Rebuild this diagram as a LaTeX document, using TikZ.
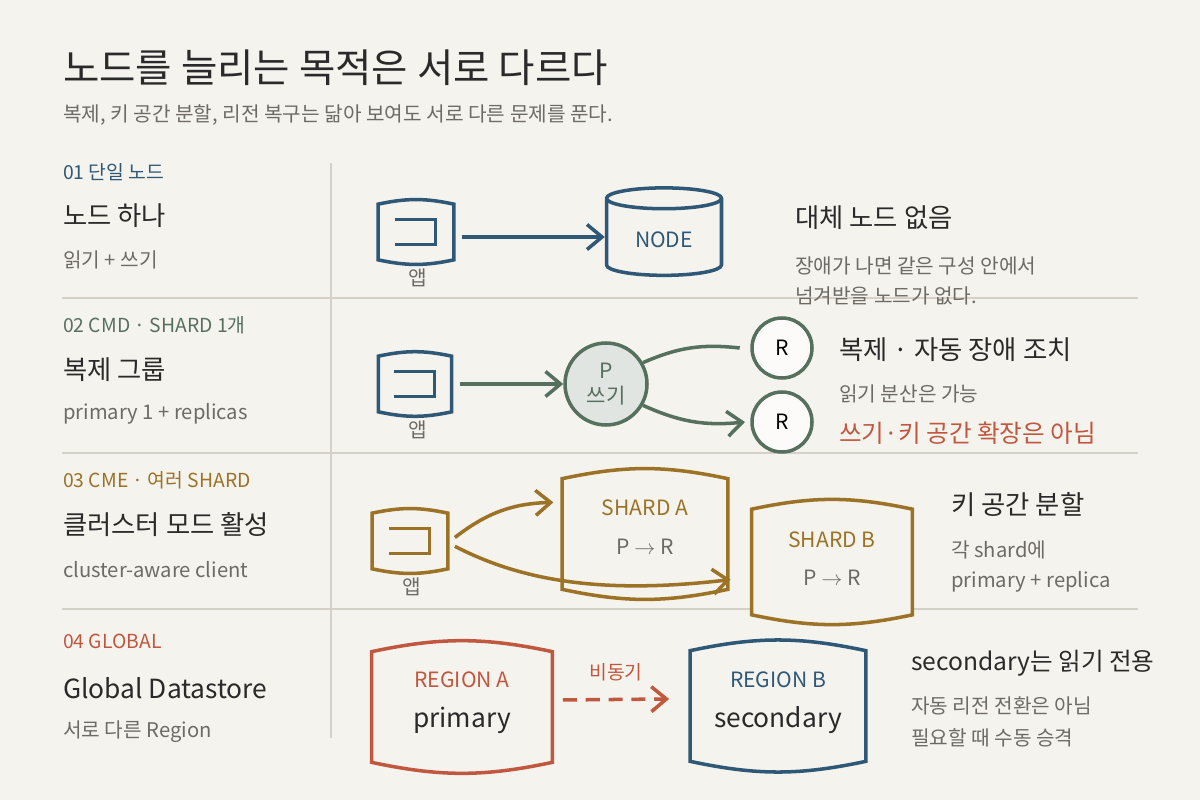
\documentclass[tikz,border=0pt]{standalone}
\usepackage{fontspec}
\setmainfont{Noto Sans CJK KR}
\usepackage{tikz}
\usetikzlibrary{shapes.geometric, arrows.meta, positioning}
\definecolor{bgc}{HTML}{F5F3EE}
\definecolor{inkc}{HTML}{2A2A2A}
\definecolor{grayc}{HTML}{6E6A64}
\definecolor{rulec}{HTML}{D6D1C8}
\definecolor{bluec}{HTML}{2F5877}
\definecolor{greenc}{HTML}{56705E}
\definecolor{goldc}{HTML}{9B7226}
\definecolor{redc}{HTML}{C0573F}
\tikzstyle{tag} = [anchor=west, font=\fontsize{11}{13}\selectfont]
\tikzstyle{head} = [anchor=west, text=inkc, font=\fontsize{15}{17}\selectfont]
\tikzstyle{note} = [anchor=west, text=grayc, font=\fontsize{11.5}{13}\selectfont]
\tikzstyle{box} = [rectangle, draw=none, inner sep=0pt]
\tikzstyle{arrow} = [line width=2pt, -{Straight Barb[length=3mm, width=5mm]}]
\tikzstyle{small} = [font=\fontsize{12}{14}\selectfont]
% bucket outline of a node: bulging top and bottom
\newcommand{\bucket}[3]{%
  \draw[#2, line width=2pt, fill=#3] (#1.north west) to[bend left=12] (#1.north east)
    -- (#1.south east) to[bend left=12] (#1.south west) -- cycle;}
\newcommand{\appicon}[2]{%
  \bucket{#1}{#2}{bgc}
  \draw[#2, line width=2pt] ([xshift=-12pt,yshift=7pt]#1.center) -- ([xshift=11pt,yshift=7pt]#1.center)
    -- ([xshift=11pt,yshift=-7pt]#1.center) -- ([xshift=-12pt,yshift=-7pt]#1.center);}

\begin{document}
\begin{tikzpicture}[x=0.02cm, y=-0.02cm]
        \fill[bgc] (0,0) rectangle (1200,800);
        \useasboundingbox (0,0) rectangle (1200,800);

        % title
        \node (title) [anchor=west, text=inkc, font=\fontsize{22.5}{26}\selectfont] at (57,68) {노드를 늘리는 목적은 서로 다르다};
        \node (sub) [note] at (57,115) {복제, 키 공간 분할, 리전 복구는 닮아 보여도 서로 다른 문제를 푼다.};

        % grid
        \draw[rulec, line width=1pt] (62,298) -- (1138,298) (62,453) -- (1138,453) (62,609) -- (1138,609);
        \draw[rulec, line width=1pt] (331,163) -- (331,738);

        % left column
        \node [tag, text=bluec] at (57,172) {01 단일 노드};
        \node [head] at (57,216) {노드 하나};
        \node [note] at (57,260) {읽기 + 쓰기};
        \node [tag, text=greenc] at (57,325) {02 CMD · SHARD 1개};
        \node [head] at (57,370) {복제 그룹};
        \node [note] at (57,414) {primary 1 + replicas};
        \node [tag, text=goldc] at (57,480) {03 CME · 여러 SHARD};
        \node [head] at (57,525) {클러스터 모드 활성};
        \node [note] at (57,570) {cluster-aware client};
        \node [tag, text=redc] at (57,641) {04 GLOBAL};
        \node [head] at (57,688) {Global Datastore};
        \node [note] at (57,732) {서로 다른 Region};

        % row 1
        \node (app1) [box, minimum width=1.5cm, minimum height=1.1cm] at (416,232) {};
        \appicon{app1}{bluec}
        \node [note] at (402,278) {앱};
        \node (node1) [cylinder, shape border rotate=90, aspect=0.3, draw=bluec, line width=2pt,
            minimum width=2.3cm, minimum height=1.75cm, text=bluec, small] at (664,240) {NODE};
        \draw[arrow, bluec] (app1.east) ++(8,5) coordinate (a1) (a1) -- (node1.west |- a1);
        \node [head] at (789,218) {대체 노드 없음};
        \node [note] at (789,266) {장애가 나면 같은 구성 안에서};
        \node [note] at (789,296) {넘겨받을 노드가 없다.};

        % row 2
        \node (app2) [box, minimum width=1.45cm, minimum height=1.1cm] at (415,384) {};
        \appicon{app2}{bluec}
        \node [note] at (402,430) {앱};
        \node (p) [circle, draw=greenc, fill=greenc!18, line width=2pt, minimum size=1.64cm,
            text=greenc, align=center, small] at (606,384) {P\\쓰기};
        \node (r1) [circle, draw=greenc, fill=white!70!bgc, line width=2pt, minimum size=1.2cm, small] at (782,348) {R};
        \node (r2) [circle, draw=greenc, fill=white!70!bgc, line width=2pt, minimum size=1.2cm, small] at (782,422) {R};
        \draw[arrow, greenc] (app2.east) ++(8,0) -- (p.west);
        \draw[greenc, line width=2pt] (p.30) to[bend left=15] ([xshift=-6pt]r1.west);
        \draw[arrow, greenc] (p.-30) to[bend right=15] ([xshift=-3pt]r2.west);
        \node [head] at (833,350) {복제 · 자동 장애 조치};
        \node [note] at (833,394) {읽기 분산은 가능};
        \node [head, text=redc, font=\fontsize{14}{16}\selectfont] at (833,433) {쓰기·키 공간 확장은 아님};

        % row 3
        \node (app3) [box, minimum width=1.5cm, minimum height=1.1cm] at (410,541) {};
        \appicon{app3}{goldc}
        \node [note] at (396,587) {앱};
        \node (sha) [box, minimum width=3.3cm, minimum height=2.2cm] at (645,534) {};
        \bucket{sha}{goldc}{bgc}
        \node [text=goldc, small] at (645,508) {SHARD A};
        \node [text=grayc, small] at (645,547) {P $\rightarrow$ R};
        \node (shb) [box, minimum width=3.2cm, minimum height=2.1cm] at (832,562) {};
        \bucket{shb}{goldc}{bgc}
        \node [text=goldc, small] at (832,540) {SHARD B};
        \node [text=grayc, small] at (832,578) {P $\rightarrow$ R};
        \draw[arrow, goldc] ([xshift=4pt,yshift=2pt]app3.east) to[bend left=18] ([xshift=-5pt,yshift=18pt]sha.west);
        \draw[arrow, goldc] ([xshift=4pt,yshift=-3pt]app3.east) .. controls (520,580) and (600,595) .. ([xshift=-12pt,yshift=-10pt]shb.west);
        \node [head] at (945,505) {키 공간 분할};
        \node [note] at (945,550) {각 shard에};
        \node [note] at (945,582) {primary + replica};

        % row 4
        \node (rega) [box, minimum width=3.6cm, minimum height=2.2cm] at (462,707) {};
        \bucket{rega}{redc}{bgc}
        \node [text=redc, small] at (462,680) {REGION A};
        \node [text=inkc, font=\fontsize{15}{17}\selectfont] at (462,720) {primary};
        \node (regb) [box, minimum width=3.5cm, minimum height=2.2cm] at (778,706) {};
        \bucket{regb}{bluec}{bgc}
        \node [text=bluec, small] at (778,680) {REGION B};
        \node [text=inkc, font=\fontsize{15}{17}\selectfont] at (778,720) {secondary};
        \draw[arrow, redc, dash pattern=on 8pt off 5pt] ([xshift=6pt,yshift=4pt]rega.east) -- node[above=6pt, text=redc, font=\fontsize{11}{13}\selectfont] {비동기} ([xshift=-12pt,yshift=4pt]regb.west);
        \node [head, font=\fontsize{14}{16}\selectfont] at (905,663) {secondary는 읽기 전용};
        \node [note] at (905,706) {자동 리전 전환은 아님};
        \node [note] at (905,738) {필요할 때 수동 승격};
    \end{tikzpicture}
\end{document}
